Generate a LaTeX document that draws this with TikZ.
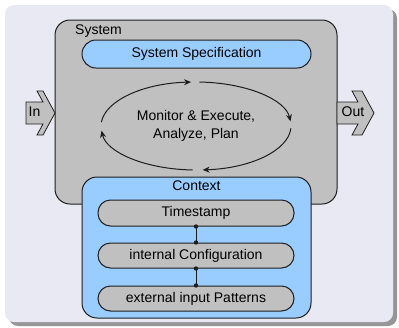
\documentclass[tikz,border=0pt]{standalone}
\usepackage{fontspec}
\setmainfont{Liberation Sans}
\usetikzlibrary{arrows.meta,calc}

\definecolor{panelbg}{RGB}{233,233,243}
\definecolor{panelshade}{RGB}{150,150,150}
\definecolor{boxgray}{RGB}{192,192,192}
\definecolor{boxblue}{RGB}{153,204,255}
\definecolor{edge}{RGB}{30,30,30}

\tikzset{
  txt/.style={font=\fontsize{14}{16}\selectfont, inner sep=0pt},
  frame/.style={draw=edge, line width=1pt, rounded corners=15pt, inner sep=0pt},
  pill/.style={draw=edge, line width=1pt, rounded corners=12.5pt, inner sep=0pt,
    fill=boxgray, font=\fontsize{14}{16}\selectfont},
  port/.style={draw=edge, line width=0.8pt, fill=boxgray, line join=miter},
  cyc/.style={draw=edge, line width=1pt, -{Stealth[length=7pt,width=6pt]}},
  link/.style={draw=edge, line width=1pt},
}

\begin{document}
\begin{tikzpicture}[x=1pt,y=1pt]
\useasboundingbox (0,0) rectangle (399,-327);

% slide panel with its drop shadow
\fill[panelshade, rounded corners=9pt] (9,-9) rectangle (397,-326);
\fill[panelbg, rounded corners=9pt] (5,-5) rectangle (393,-322);

% system block
\node[frame, fill=boxgray, minimum width=282pt, minimum height=184pt] (sys) at (196,-112) {};
\node[txt, anchor=west] (syslbl) at (75,-31) {System};

\node[pill, fill=boxblue, rounded corners=14pt, minimum width=229pt, minimum height=28pt]
  (spec) at (196.5,-54) {System Specification};

% MAPE loop
\coordinate (loop) at (196,-126);
\node[txt, align=center] (mape) at (loop) {Monitor \& Execute,\\[2pt]Analyze, Plan};
\draw[cyc] ([shift={(175:95pt and 44pt)}]loop) arc[start angle=175, end angle=93, x radius=95pt, y radius=44pt];
\draw[cyc] ([shift={(88:95pt and 44pt)}]loop) arc[start angle=88, end angle=6, x radius=95pt, y radius=44pt];
\draw[cyc] ([shift={(-3:95pt and 44pt)}]loop) arc[start angle=-3, end angle=-86, x radius=95pt, y radius=44pt];
\draw[cyc] ([shift={(-92:95pt and 44pt)}]loop) arc[start angle=-92, end angle=-174, x radius=95pt, y radius=44pt];

% input and output ports
\draw[port] (26,-102) -- (43,-102) -- (37,-91) -- (43,-91) -- (55,-113)
  -- (43,-135) -- (37,-135) -- (43,-124) -- (26,-124) -- cycle;
\node[txt] (in) at (34.5,-112) {In};
\draw[port] (337,-102) -- (358,-102) -- (352,-91) -- (362,-91) -- (374,-113)
  -- (362,-135) -- (352,-135) -- (358,-124) -- (337,-124) -- cycle;
\node[txt] (out) at (353,-112) {Out};

% context block
\node[frame, fill=boxblue, minimum width=229pt, minimum height=141pt] (ctx) at (196.5,-247.5) {};
\node[txt] (ctxlbl) at (196.5,-186) {Context};

\node[pill, minimum width=196pt, minimum height=26pt] (ts) at (196,-213) {Timestamp};
\node[pill, minimum width=196pt, minimum height=25pt] (cfg) at (196,-255.5) {internal Configuration};
\node[pill, minimum width=196pt, minimum height=25pt] (ext) at (196,-298.5) {external input Patterns};

\draw[link] (ts.south) -- (cfg.north);
\draw[link] (cfg.south) -- (ext.north);
\foreach \p in {ts.south, cfg.north, cfg.south, ext.north}
  \fill[edge] (\p) circle (2.2pt);
\end{tikzpicture}
\end{document}
